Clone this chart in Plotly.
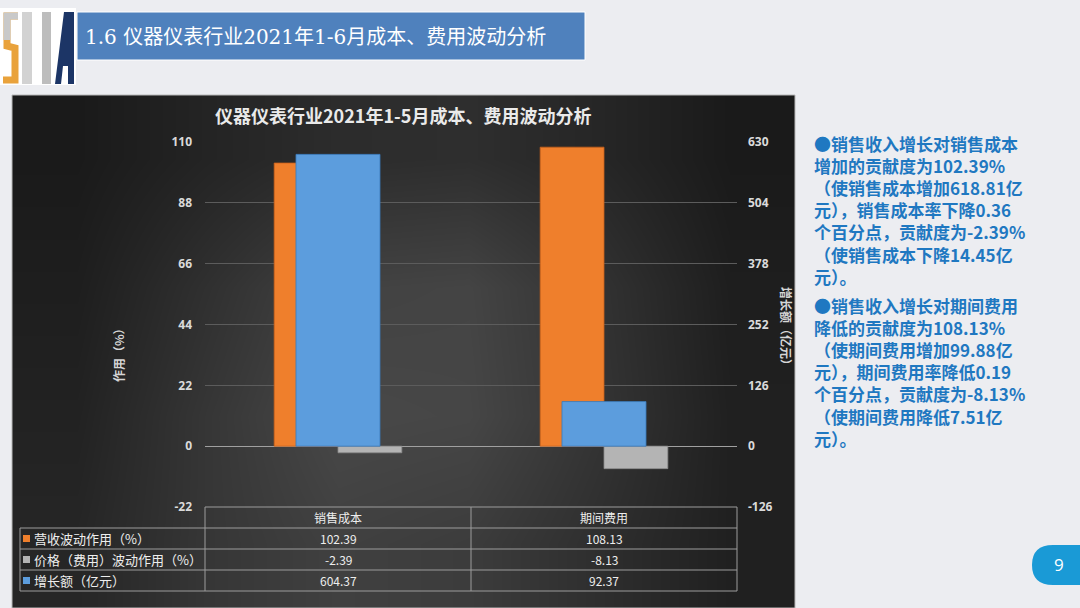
import plotly.graph_objects as go

W, H = 1080, 608


def px(x):
    return x / W


def py(y):
    return 1 - y / H


# ---------------- data ----------------
categories = ["销售成本", "期间费用"]
revenue_effect = [102.39, 108.13]      # 营收波动作用（%）  -> left axis
price_effect = [-2.39, -8.13]          # 价格（费用）波动作用（%） -> left axis
growth_amount = [604.37, 92.37]        # 增长额（亿元） -> right axis
series_names = ["营收波动作用（%）", "价格（费用）波动作用（%）", "增长额（亿元）"]
left_ticks = [-22, 0, 22, 44, 66, 88, 110]
right_ticks = [-126, 0, 126, 252, 378, 504, 630]
chart_title = "仪器仪表行业2021年1-5月成本、费用波动分析"
page_title = "1.6 仪器仪表行业2021年1-6月成本、费用波动分析"
left_axis_title = "作用（%）"
right_axis_title = "增长额（亿元）"
page_number = "9"
notes_cost = [
    "●销售收入增长对销售成本",
    "增加的贡献度为102.39%",
    "（使销售成本增加618.81亿",
    "元），销售成本率下降0.36",
    "个百分点，贡献度为-2.39%",
    "（使销售成本下降14.45亿",
    "元）。",
]
notes_expense = [
    "●销售收入增长对期间费用",
    "降低的贡献度为108.13%",
    "（使期间费用增加99.88亿",
    "元），期间费用率降低0.19",
    "个百分点，贡献度为-8.13%",
    "（使期间费用降低7.51亿",
    "元）。",
]
# background shading of the dark chart panel (grey levels, top row first)
bg_shade = [
    [26, 36, 44, 46, 38, 26],
    [30, 48, 66, 68, 50, 30],
    [34, 54, 72, 70, 52, 32],
    [38, 54, 64, 60, 46, 32],
]

# ---------------- styles ----------------
ORANGE = "#EF7F2C"
GRAY = "#B4B4B4"
BLUE = "#5C9DDD"
series_colors = [ORANGE, GRAY, BLUE]
CJK = "Noto Sans CJK SC"

fig = go.Figure()

# background panel
fig.add_trace(go.Heatmap(
    z=bg_shade, colorscale=[[0, "rgb(0,0,0)"], [1, "rgb(255,255,255)"]],
    zmin=0, zmax=255, zsmooth="best", showscale=False, hoverinfo="skip",
    xaxis="x", yaxis="y"))

bar_w = 0.24
blue_w = 0.316
fig.add_trace(go.Bar(
    x=categories, y=revenue_effect, name=series_names[0],
    width=[bar_w] * len(categories), offset=[-bar_w] * len(categories),
    marker=dict(color=ORANGE, line=dict(color="#C8601A", width=0.8)),
    xaxis="x2", yaxis="y2"))
fig.add_trace(go.Bar(
    x=categories, y=price_effect, name=series_names[1],
    width=[bar_w] * len(categories), offset=[0] * len(categories),
    marker=dict(color=GRAY, line=dict(color="#8a8a8a", width=0.8)),
    xaxis="x2", yaxis="y2"))
fig.add_trace(go.Bar(
    x=categories, y=growth_amount, name=series_names[2],
    width=[blue_w] * len(categories), offset=[-blue_w / 2] * len(categories),
    marker=dict(color=BLUE, line=dict(color="#3A78B8", width=0.8)),
    xaxis="x2", yaxis="y3"))

tick_font = dict(family="Open Sans", size=12, color="#DADADA", weight="bold")

fig.update_layout(
    width=W, height=H, autosize=False,
    margin=dict(l=0, r=0, t=0, b=0, pad=0, autoexpand=False),
    paper_bgcolor="#ECEDF1", plot_bgcolor="rgba(0,0,0,0)",
    showlegend=False, barmode="overlay",
    xaxis=dict(domain=[px(12), px(795)], range=[-0.5, len(bg_shade[0]) - 0.5],
               visible=False, fixedrange=True, automargin=False),
    yaxis=dict(domain=[0, py(95)], range=[len(bg_shade) - 0.5, -0.5],
               visible=False, fixedrange=True, automargin=False),
    xaxis2=dict(domain=[px(205), px(737)], range=[-0.5, 1.5], type="category",
                categoryorder="array", categoryarray=categories,
                showticklabels=False, showgrid=False, zeroline=False,
                showline=False, anchor="y2", automargin=False),
    yaxis2=dict(domain=[py(507), py(142)], range=[left_ticks[0], left_ticks[-1]],
                tickvals=left_ticks, ticktext=[str(v) for v in left_ticks],
                showgrid=True, gridcolor="#5C5C5C", gridwidth=1,
                zeroline=True, zerolinecolor="#A0A0A0", zerolinewidth=1,
                showline=False, ticks="", ticklabelstandoff=12,
                tickfont=tick_font, anchor="x2", automargin=False),
    yaxis3=dict(overlaying="y2", side="right",
                range=[right_ticks[0], right_ticks[-1]],
                tickvals=right_ticks, ticktext=[str(v) for v in right_ticks],
                showgrid=False, zeroline=False, showline=False, ticks="",
                ticklabelstandoff=10, tickfont=tick_font, anchor="x2",
                automargin=False),
)

shapes = []
annotations = []

# ---- logo ----
shapes.append(dict(type="rect", xref="paper", yref="paper", x0=px(0), x1=px(76),
                   y0=py(85), y1=py(8), fillcolor="white", line=dict(width=0)))
shapes.append(dict(type="path", xref="paper", yref="paper",
                   path=f"M {px(18)},{py(16)} L {px(7)},{py(16)} L {px(7)},{py(46)} "
                        f"L {px(15)},{py(48)} L {px(15)},{py(80)} L {px(3)},{py(80)}",
                   line=dict(color="#E9A23B", width=7)))
shapes.append(dict(type="path", xref="paper", yref="paper",
                   path=f"M {px(18)},{py(16)} L {px(7)},{py(16)} L {px(7)},{py(40)}",
                   line=dict(color="#C9C9C9", width=7)))
shapes.append(dict(type="rect", xref="paper", yref="paper", x0=px(22), x1=px(32),
                   y0=py(84), y1=py(12), fillcolor="#D2D2D2", line=dict(width=0)))
shapes.append(dict(type="rect", xref="paper", yref="paper", x0=px(42), x1=px(51),
                   y0=py(84), y1=py(12), fillcolor="#BDBDBD", line=dict(width=0)))
shapes.append(dict(type="path", xref="paper", yref="paper",
                   path=f"M {px(55)},{py(84)} L {px(64)},{py(12)} L {px(74)},{py(12)} "
                        f"L {px(74)},{py(84)} L {px(68)},{py(84)} L {px(68)},{py(66)} "
                        f"L {px(63)},{py(66)} L {px(61)},{py(84)} Z",
                   fillcolor="#1C3566", line=dict(width=0)))

# ---- page title bar ----
shapes.append(dict(type="rect", xref="paper", yref="paper", x0=px(77), x1=px(585),
                   y0=py(60), y1=py(12), fillcolor="#4F81BD",
                   line=dict(color="#FFFFFF", width=1)))
annotations.append(dict(text=page_title, xref="paper", yref="paper", x=px(83), y=py(37),
                        xanchor="left", yanchor="middle", showarrow=False,
                        font=dict(family="DejaVu Serif, " + CJK, size=20, color="white")))

# ---- chart panel border ----
shapes.append(dict(type="rect", xref="paper", yref="paper", x0=px(12), x1=px(795),
                   y0=py(608), y1=py(95), line=dict(color="#B8B8B8", width=1),
                   layer="above"))

# ---- chart title & axis titles ----
annotations.append(dict(text=chart_title, xref="paper", yref="paper", x=px(403), y=py(115),
                        xanchor="center", yanchor="middle", showarrow=False,
                        font=dict(family=CJK, size=18, color="#EAEAEA", weight="bold")))
annotations.append(dict(text=left_axis_title, xref="paper", yref="paper", x=px(118), y=py(352),
                        textangle=-90, xanchor="center", yanchor="middle", showarrow=False,
                        font=dict(family=CJK, size=12, color="#D6D6D6", weight="bold")))
annotations.append(dict(text=right_axis_title, xref="paper", yref="paper", x=px(786), y=py(329),
                        textangle=90, xanchor="center", yanchor="middle", showarrow=False,
                        font=dict(family=CJK, size=12, color="#D6D6D6", weight="bold")))

# ---- data table ----
LINE = dict(color="#9C9C9C", width=1)
col_x = [20, 205, 471, 737]
row_y = [507, 528, 549, 570, 591]
shapes.append(dict(type="line", xref="paper", yref="paper", x0=px(col_x[1]), x1=px(col_x[3]),
                   y0=py(row_y[0]), y1=py(row_y[0]), line=LINE, layer="above"))
for yy in row_y[1:]:
    shapes.append(dict(type="line", xref="paper", yref="paper", x0=px(col_x[0]), x1=px(col_x[3]),
                       y0=py(yy), y1=py(yy), line=LINE, layer="above"))
shapes.append(dict(type="line", xref="paper", yref="paper", x0=px(col_x[0]), x1=px(col_x[0]),
                   y0=py(row_y[1]), y1=py(row_y[-1]), line=LINE, layer="above"))
for xx in col_x[1:]:
    shapes.append(dict(type="line", xref="paper", yref="paper", x0=px(xx), x1=px(xx),
                       y0=py(row_y[0]), y1=py(row_y[-1]), line=LINE, layer="above"))

cell_font = dict(family=CJK, size=12, color="#EEEEEE")
for c in categories:
    annotations.append(dict(text=c, xref="x2", yref="paper", x=c, y=py(517.5),
                            xanchor="center", yanchor="middle", showarrow=False,
                            font=cell_font))
table_rows = [revenue_effect, price_effect, growth_amount]
for i, (name, vals, col) in enumerate(zip(series_names, table_rows, series_colors)):
    yc = (row_y[i + 1] + row_y[i + 2]) / 2
    shapes.append(dict(type="rect", xref="paper", yref="paper", x0=px(23), x1=px(30),
                       y0=py(yc + 3.5), y1=py(yc - 3.5), fillcolor=col,
                       line=dict(width=0), layer="above"))
    annotations.append(dict(text=name, xref="paper", yref="paper", x=px(32), y=py(yc),
                            xanchor="left", yanchor="middle", showarrow=False,
                            font=dict(family=CJK, size=13, color="#EEEEEE")))
    for c, v in zip(categories, vals):
        annotations.append(dict(text=f"{v:.2f}", xref="x2", yref="paper", x=c, y=py(yc),
                                xanchor="center", yanchor="middle", showarrow=False,
                                font=cell_font))

# ---- commentary text (one block per paragraph) ----
note_font = dict(family=CJK, size=17, color="#1F78C1", weight="bold")
for lines, ytop in ((notes_cost, 129), (notes_expense, 291)):
    annotations.append(dict(text="<br>".join(lines), xref="paper", yref="paper",
                            x=px(812), y=py(ytop), xanchor="left", yanchor="top",
                            align="left", showarrow=False, font=note_font))

# ---- page number tab ----
shapes.append(dict(type="path", xref="paper", yref="paper",
                   path=f"M {px(1080)},{py(545)} L {px(1053)},{py(545)} "
                        f"Q {px(1032)},{py(545)} {px(1032)},{py(565)} "
                        f"Q {px(1032)},{py(585)} {px(1053)},{py(585)} L {px(1080)},{py(585)} Z",
                   fillcolor="#1A9AD6", line=dict(width=0)))
annotations.append(dict(text=page_number, xref="paper", yref="paper", x=px(1059), y=py(564),
                        xanchor="center", yanchor="middle", showarrow=False,
                        font=dict(family="Open Sans", size=17, color="white")))

fig.update_layout(shapes=shapes, annotations=annotations)
fig.write_html("out.html")
